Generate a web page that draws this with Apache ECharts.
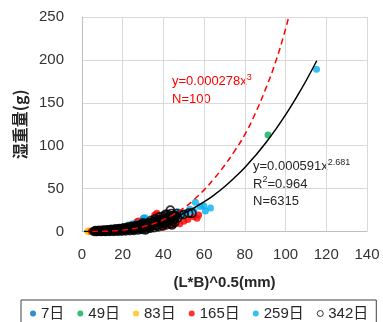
<!DOCTYPE html>
<html><head><meta charset="utf-8">
<script src="https://cdn.jsdelivr.net/npm/echarts@6/dist/echarts.min.js"></script>
<style>html,body{margin:0;padding:0;background:#fff}#c{width:383px;height:322px}</style>
</head><body><div id="c"></div>
<script>
// ---- data ----
const seriesNames = ['7日','49日','83日','165日','259日','342日'];
const xTicks = [0,20,40,60,80,100,120,140];
const yTicks = [0,50,100,150,200,250];

const d7 = [[4,0.2],[6,0.3],[8,0.5]];
const d49 = [[91.4,112.6],[6.5,0.8],[9,1.2]];
const d83 = [[2.8,0.2],[3.6,0.5],[4.3,0.3],[10,1.8]];
const d165 = [[4.6,0.3],[5.3,0.6],[6.2,0.2],[27,11.5],[27.8,12.3],[30.3,15.5],[35.7,19.3],[36.8,21.3],
  [54.8,17.3],[56.5,15.5],[57.3,19.3],[38.5,11.5],[44,7.6],[40,5],[45,8],[48,9],[50,12],[42,16],
  [22,5],[18,4],[33,3],[52,14],[24,7.5]];
const d259 = [[115.2,189],[63.1,27.5],[59.8,30],[55.7,34],[58,29],[60.6,24],[55,24],[52.4,23.2],[50,21],
  [49,21.3],[45,19.3],[30.3,15.4],[31,16],[22.8,7.6],[25,9],[28,10],[34,12],[36,14],[38,15],[40,17],
  [42,18],[44,20],[46,19],[48,20],[20,5],[17,4],[14,3],[12,2],[47,23],[53,26]];
const d342 = [[6,0],[7,0.2],[8,0.3],[9,0.2],[10,0.5],[11,0.3],[12,0.8],[13,0.5],[14,1.0],[15,0.7],[16,1.4],
  [17,1.0],[18,1.8],[19,1.3],[20,2.3],[21,1.7],[22,2.9],[23,2.2],[24,3.5],[25,2.8],[26,4.3],[27,3.5],
  [28,5.2],[29,4.3],[30,6.2],[31,5.0],[32,7.3],[33,6.0],[34,8.5],[35,7.0],[36,9.8],[37,8.2],[38,11.2],
  [39,9.5],[40,12.8],[41,11.0],[42,14.4],[43,12.5],[44,16],[45,14],[46,17.5],[47,16],
  [6.5,1.0],[8.5,1.2],[10.5,1.5],[12.5,2.0],[14.5,2.5],[16.5,3.0],[18.5,3.5],[20.5,4.2],[22.5,5.0],
  [24.5,6.0],[26.5,6.8],[28.5,7.8],[30.5,8.8],[32.5,10],[34.5,11.3],[36.5,12.5],[38.5,14],[40.5,15.5],
  [42.5,17],[44.5,18.5],
  [7.5,0],[11.5,0],[15.5,0.2],[19.5,0.5],[23.5,1],[27.5,1.8],[31.5,3],[35.5,4.5],[39.5,6.5],[43.5,9],
  [9.5,0.1],[13.5,0.1],[17.5,0.3],[21.5,0.8],[25.5,1.4],[29.5,2.4],[33.5,3.8],[37.5,5.5],[41.5,7.8],[45.5,10.5],
  [7.2,0.6],[9.7,0.9],[11.8,1.3],[13.8,1.6],[15.8,2.0],[17.8,2.4],[19.8,3.0],[21.8,3.6],[23.8,4.3],
  [25.8,5.1],[27.8,6.0],[29.8,7.0],[31.8,8.0],[33.8,9.2],[35.8,10.4],[37.8,11.8],[39.8,13.3],[41.8,14.8],
  [43.8,16.5],[45.8,18.5],
  [8.2,0.7],[10.2,1.0],[12.2,1.4],[14.2,1.8],[16.2,2.2],[18.2,2.7],[20.2,3.3],[22.2,4.0],[24.2,4.8],
  [26.2,5.6],[28.2,6.6],[30.2,7.6],[32.2,8.8],[34.2,10],[36.2,11.4],[38.2,12.8],[40.2,14.4],[42.2,16],
  [32.8,4.5],[36.8,6.5],[40.8,9],[44.8,12.5],[28.8,3],[24.8,2],
  [30,10],[34,13],[38,17],[42,20],[36,15],[40,18],[44,21],
  [43.4,24.8],[45,17.3],[48.3,19.3],[52.4,21.3],[54,21.3],[31.1,1.8],[44.2,7.6],[50,20],[46.5,21],[41,20]];

const fitX = [1,5,10,15,20,25,30,35,40,45,50,55,60,65,70,75,80,85,90,95,100,105,110,115.3];
const fitY = [0.001,0.044,0.28,0.84,1.8,3.3,5.4,8.2,11.7,16,21.2,27.4,34.6,42.8,52.2,62.9,74.7,88,102.5,118.5,136,155,175.4,199];
const refX = [5,10,15,20,25,30,35,40,45,50,55,60,65,70,75,80,85,90,95,100,101.5];
const refY = [0.02,0.2,0.6,1.6,3.2,5.6,9,13.7,20,27.4,37,48.5,62,77,94,113,137,165,197,236,250];

// ---- chart ----
const FONT = '"Liberation Sans","Noto Sans CJK JP",sans-serif';
const zip = (a,b)=>a.map((v,i)=>[v,b[i]]);
const colors = ['#0070C0','#00B050','#FFC000','#FF0000','#00B0F0','#000000'];
const scatterData = [d7,d49,d83,d165,d259,d342];

const series = scatterData.map((d,i)=>({
  name: seriesNames[i], type:'scatter', data:d, symbol:'circle',
  symbolSize: i===5 ? 8 : 7,
  itemStyle: i===5 ? {color:'rgba(0,0,0,0)', borderColor:'#000', borderWidth:1.7}
                   : {color:colors[i]},
  z: 3+i, silent:true
}));
series.push({type:'line', data:zip(fitX,fitY), smooth:true, symbol:'none',
  lineStyle:{color:'#000', width:1.5}, z:20, silent:true});
series.push({type:'line', data:zip(refX,refY), smooth:true, symbol:'none',
  lineStyle:{color:'#FF0000', width:1.5, type:[6,4]}, z:21, silent:true});

const legendData = seriesNames.map((n,i)=> i===5
  ? {name:n, icon:'circle', itemStyle:{color:'rgba(0,0,0,0)', borderColor:'#000', borderWidth:1}}
  : {name:n, icon:'circle'});

const chart = echarts.init(document.getElementById('c'), null, {renderer:'canvas'});
chart.setOption({
  animation:false,
  textStyle:{fontFamily:FONT},
  grid:{left:82, right:16, top:17, bottom:90.5, containLabel:false},
  xAxis:{type:'value', min:xTicks[0], max:xTicks[xTicks.length-1], interval:20,
    name:'(L*B)^0.5(mm)', nameLocation:'middle', nameGap:44,
    nameTextStyle:{fontFamily:FONT, fontWeight:'bold', fontSize:15, color:'#262626'},
    axisLine:{show:true, lineStyle:{color:'#bfbfbf', width:1}},
    axisTick:{show:false},
    axisLabel:{fontSize:15, color:'#333', margin:16, fontFamily:FONT},
    splitLine:{show:true, lineStyle:{color:'#d9d9d9', width:1}}},
  yAxis:{type:'value', min:yTicks[0], max:yTicks[yTicks.length-1], interval:50,
    name:'湿重量(g)', nameLocation:'middle', nameGap:48, nameRotate:90,
    nameTextStyle:{fontFamily:'"Noto Sans CJK JP",sans-serif', fontWeight:'bold', fontSize:16, color:'#262626'},
    axisLine:{show:true, lineStyle:{color:'#bfbfbf', width:1}},
    axisTick:{show:false},
    axisLabel:{fontSize:15, color:'#333', margin:18, fontFamily:FONT},
    splitLine:{show:true, lineStyle:{color:'#d9d9d9', width:1}}},
  legend:{data:legendData,
    left:21, top:300, orient:'horizontal',
    itemWidth:6, itemHeight:6, itemGap:13,
    padding:[6,8,6,9], borderColor:'#404040', borderWidth:1,
    textStyle:{fontSize:15, color:'#262626', fontFamily:FONT, padding:[0,0,0,0]}},
  graphic:[
    {type:'text', left:172, top:73, style:{
      text:'{a|y=0.000278x}{s|3}\n{a|N=100}',
      rich:{a:{fontSize:13, fill:'#FF0000', fontFamily:FONT, lineHeight:18},
            s:{fontSize:9, fill:'#FF0000', fontFamily:FONT, lineHeight:18, padding:[0,0,8,0]}}}},
    {type:'text', left:253, top:158, style:{
      text:'{a|y=0.000591x}{s|2.681}\n{a|R}{s|2}{a|=0.964}\n{a|N=6315}',
      rich:{a:{fontSize:13, fill:'#262626', fontFamily:FONT, lineHeight:17.5},
            s:{fontSize:9, fill:'#262626', fontFamily:FONT, lineHeight:17.5, padding:[0,0,8,0]}}}}
  ],
  series
});
</script></body></html>
